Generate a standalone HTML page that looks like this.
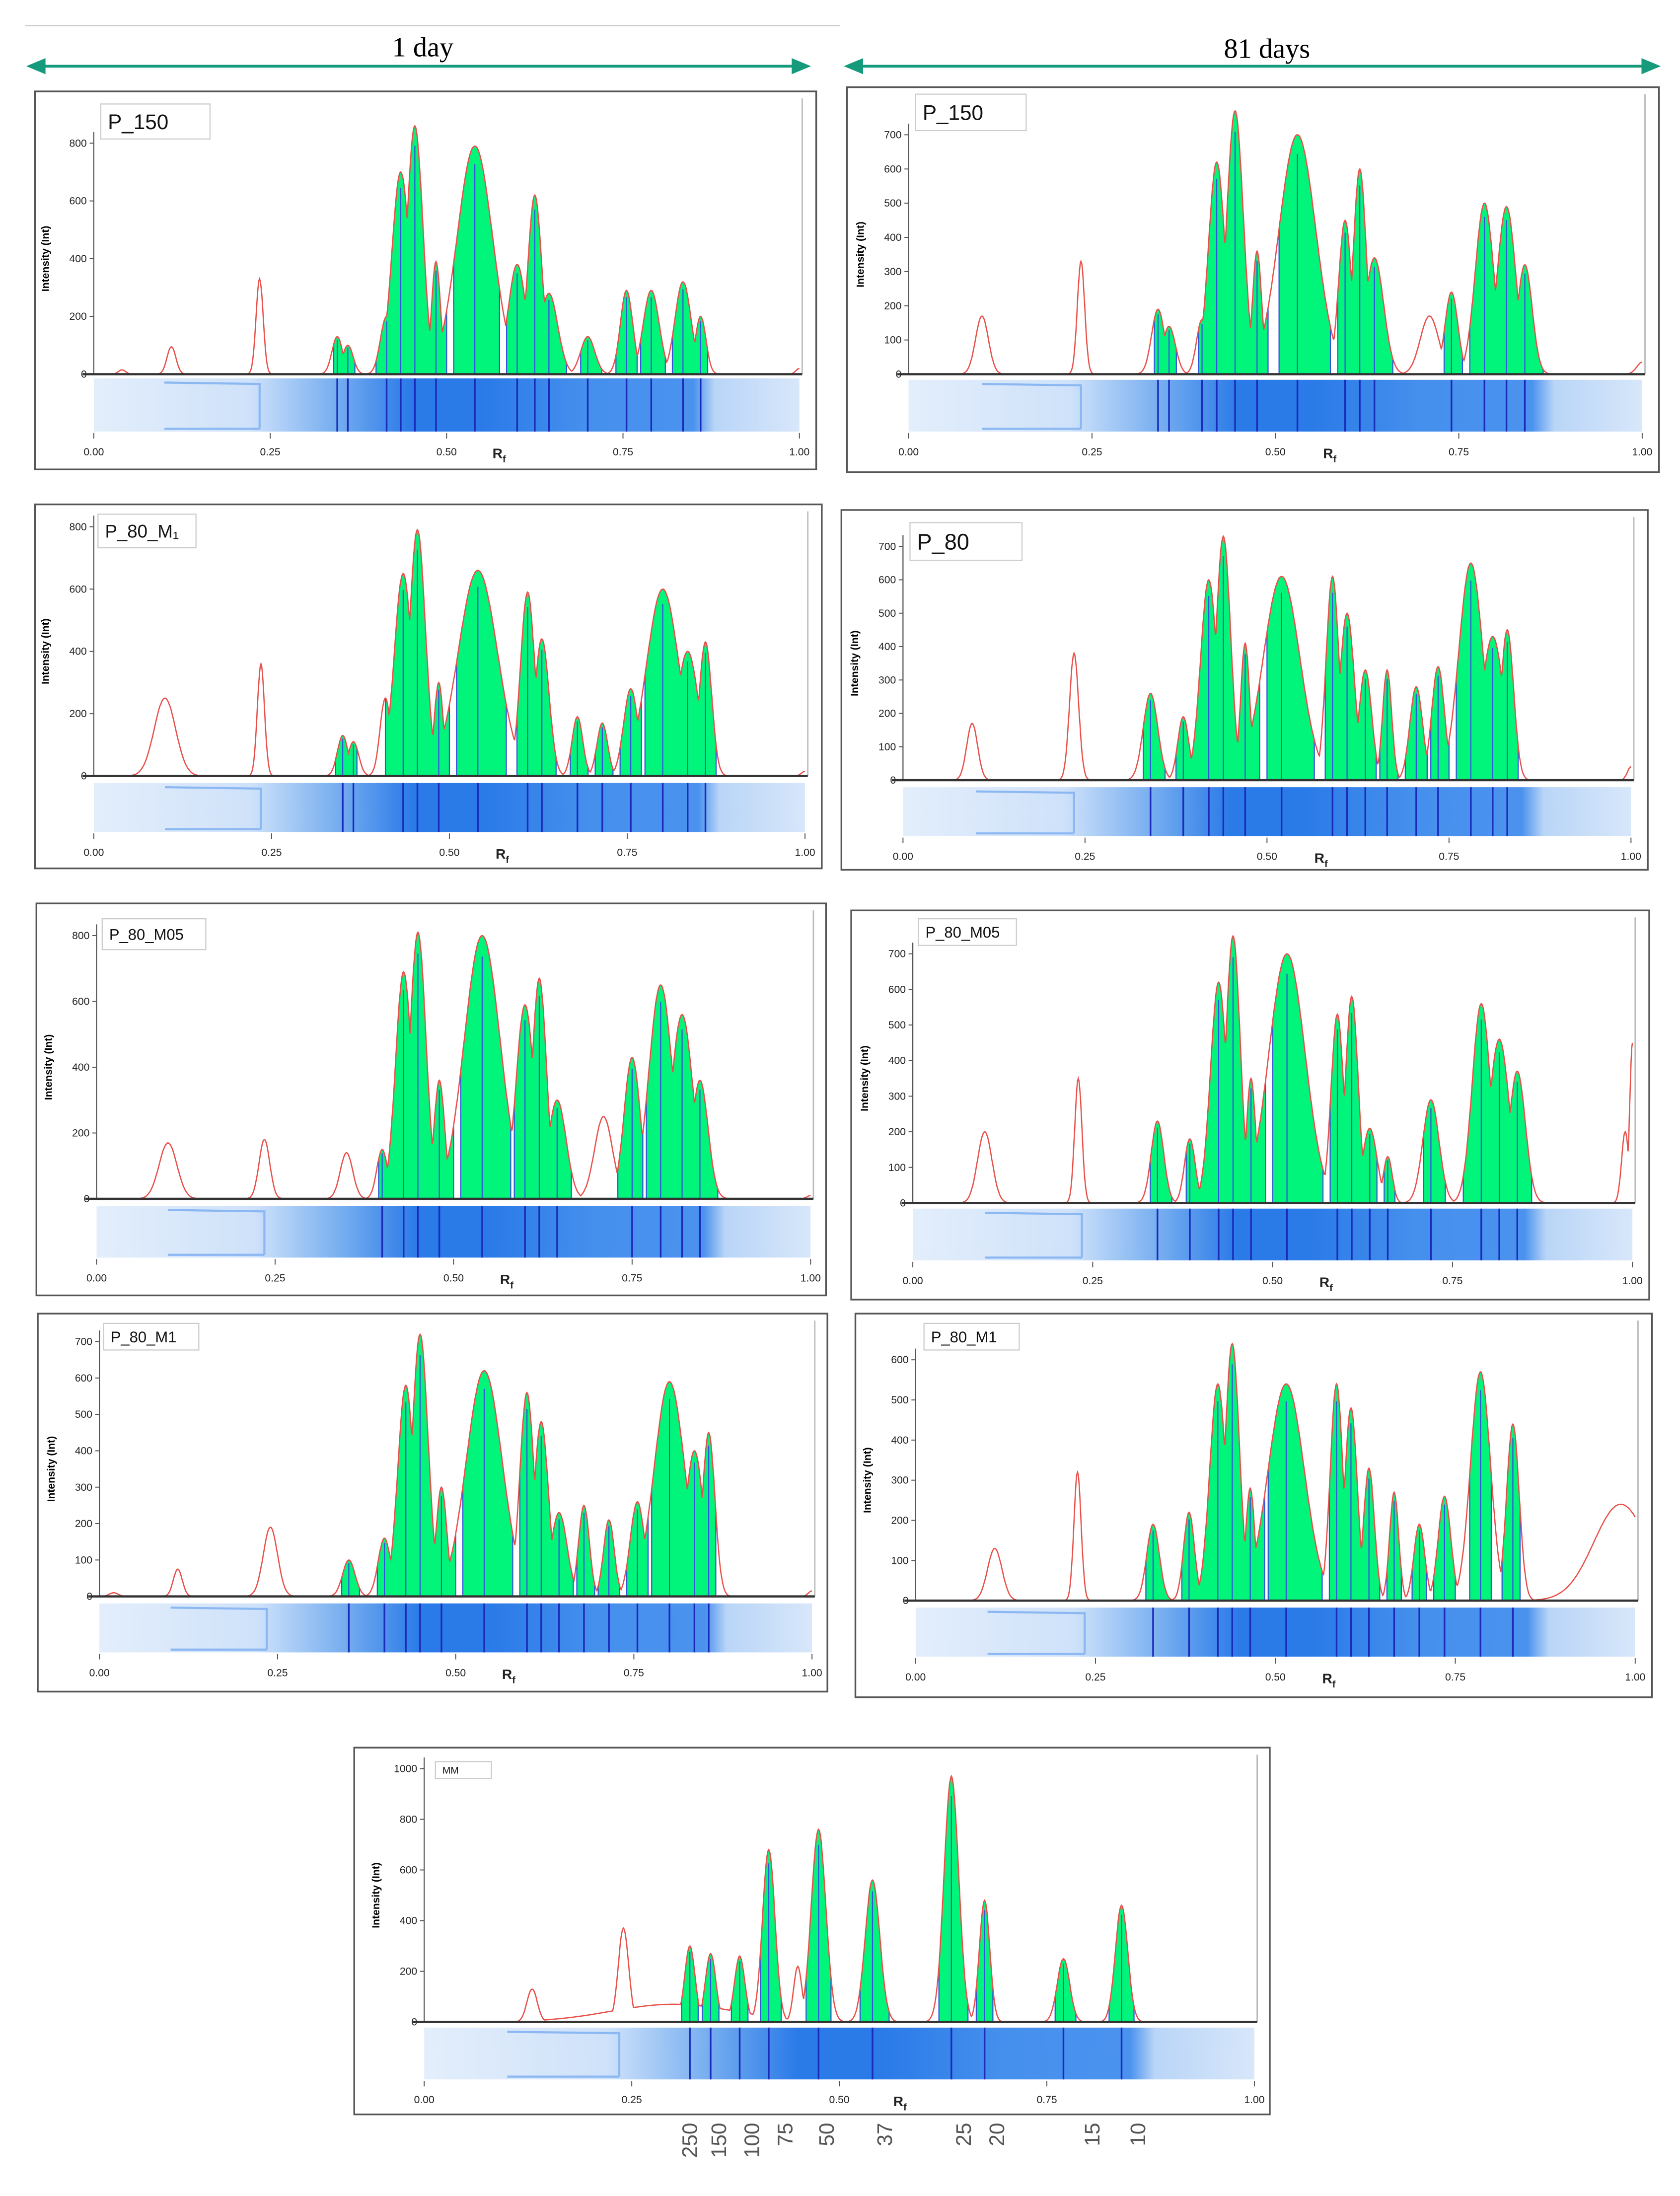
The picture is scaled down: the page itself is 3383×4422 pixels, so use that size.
<!DOCTYPE html>
<html><head><meta charset="utf-8">
<style>
html,body{margin:0;padding:0;background:#fff;}
svg{display:block;font-family:"Liberation Sans",sans-serif;}
</style></head>
<body>
<svg id="fig" width="3383" height="4422" viewBox="0 0 1200 1568" xmlns="http://www.w3.org/2000/svg">
<defs>
<linearGradient id="gel" x1="0" x2="1" y1="0" y2="0">
<stop offset="0" stop-color="#e3eefb"/>
<stop offset="0.22" stop-color="#cfe2fa"/>
<stop offset="0.34" stop-color="#78aff0"/>
<stop offset="0.45" stop-color="#2a7ae8"/>
<stop offset="0.55" stop-color="#2a7ae8"/>
<stop offset="0.7" stop-color="#4690ed"/>
<stop offset="0.85" stop-color="#4a92ee"/>
<stop offset="0.88" stop-color="#b9d5f7"/>
<stop offset="1" stop-color="#d8e7fa"/>
</linearGradient>
</defs>
<line x1="18" y1="18" x2="600" y2="18" stroke="#ccc" stroke-width="1"/>
<text x="302" y="40" font-family="Liberation Serif,serif" font-size="20" text-anchor="middle">1 day</text>
<text x="905" y="41" font-family="Liberation Serif,serif" font-size="20" text-anchor="middle">81 days</text>
<g stroke="#159a7c" fill="#159a7c">
<line x1="26" y1="47" x2="572" y2="47" stroke-width="2"/>
<polygon points="20,47 32,42 32,52"/><polygon points="578,47 566,42 566,52"/></g>
<g stroke="#159a7c" fill="#159a7c">
<line x1="610" y1="47" x2="1179" y2="47" stroke-width="2"/>
<polygon points="604,47 616,42 616,52"/><polygon points="1185,47 1173,42 1173,52"/></g>
<g id="panels"></g>
</svg>
<script>
const peaksL1=[[0.04,15,.004],[0.11,95,.005],[0.235,330,.004],[0.345,130,.006],[0.36,100,.006],[0.415,200,.007],[0.435,700,.01],[0.455,860,.009],[0.485,390,.005],[0.54,790,.02],[0.60,380,.01],[0.625,620,.008],[0.645,280,.01],[0.70,130,.008],[0.755,290,.007],[0.79,290,.009],[0.835,320,.009],[0.86,200,.006],[1.0,20,.004]];
const fillsL1=[[.34,.37],[.40,.50],[.51,.575],[.585,.67],[.69,.72],[.74,.77],[.775,.81],[.82,.87]];
const peaksL2=[[0.10,250,.012],[0.235,360,.004],[0.35,130,.006],[0.365,110,.006],[0.41,250,.006],[0.435,650,.01],[0.455,790,.009],[0.485,300,.005],[0.54,660,.022],[0.61,590,.008],[0.63,440,.008],[0.68,190,.006],[0.715,170,.006],[0.755,280,.008],[0.80,600,.018],[0.835,400,.012],[0.86,430,.007],[1.0,15,.004]];
const fillsL2=[[.34,.37],[.41,.50],[.51,.58],[.595,.65],[.67,.695],[.705,.73],[.74,.77],[.775,.875]];
const peaksL3=[[0.10,170,.01],[0.235,180,.006],[0.35,140,.007],[0.40,150,.006],[0.43,690,.009],[0.45,810,.009],[0.48,360,.006],[0.54,800,.02],[0.60,590,.01],[0.62,670,.008],[0.645,300,.01],[0.71,250,.01],[0.75,430,.009],[0.79,650,.013],[0.82,560,.012],[0.845,360,.009],[1.0,10,.004]];
const fillsL3=[[.395,.50],[.51,.58],[.585,.665],[.73,.765],[.77,.87]];
const peaksL4=[[0.02,10,.005],[0.11,75,.005],[0.24,190,.008],[0.35,100,.007],[0.40,160,.007],[0.43,580,.009],[0.45,720,.009],[0.48,300,.006],[0.54,620,.02],[0.60,560,.008],[0.62,480,.008],[0.645,230,.009],[0.68,250,.006],[0.715,210,.006],[0.755,260,.008],[0.80,590,.017],[0.835,400,.01],[0.855,450,.007],[1.0,15,.004]];
const fillsL4=[[.34,.365],[.39,.50],[.51,.58],[.59,.665],[.67,.695],[.70,.73],[.74,.77],[.775,.865]];
const peaksR1=[[0.10,170,.007],[0.235,330,.004],[0.34,190,.007],[0.355,140,.007],[0.40,160,.006],[0.42,620,.009],[0.445,770,.009],[0.475,360,.005],[0.53,700,.02],[0.595,450,.007],[0.615,600,.007],[0.635,340,.01],[0.71,170,.01],[0.74,240,.007],[0.785,500,.01],[0.815,490,.01],[0.84,320,.008],[1.0,35,.006]];
const fillsR1=[[.335,.365],[.395,.49],[.505,.575],[.585,.66],[.73,.755],[.765,.865]];
const peaksR2=[[0.095,170,.006],[0.235,380,.005],[0.34,260,.008],[0.385,190,.006],[0.42,600,.009],[0.44,730,.008],[0.47,410,.005],[0.52,610,.02],[0.59,610,.007],[0.61,500,.008],[0.635,330,.007],[0.665,330,.005],[0.705,280,.007],[0.735,340,.007],[0.78,650,.013],[0.81,430,.012],[0.83,450,.007],[1.0,40,.004]];
const fillsR2=[[.33,.36],[.375,.49],[.50,.565],[.58,.65],[.655,.68],[.69,.72],[.725,.75],[.76,.845]];
const peaksR3=[[0.10,200,.008],[0.23,350,.004],[0.34,230,.007],[0.385,180,.006],[0.425,620,.009],[0.445,750,.008],[0.47,350,.005],[0.52,700,.02],[0.59,530,.007],[0.61,580,.007],[0.635,210,.008],[0.66,130,.005],[0.72,290,.009],[0.79,560,.01],[0.815,460,.011],[0.84,370,.009],[0.99,200,.004],[1.0,450,.003]];
const fillsR3=[[.33,.36],[.38,.49],[.50,.57],[.58,.645],[.655,.67],[.71,.74],[.765,.86]];
const peaksR4=[[0.11,130,.008],[0.225,320,.004],[0.33,190,.007],[0.38,220,.006],[0.42,540,.009],[0.44,640,.008],[0.465,280,.005],[0.515,540,.02],[0.585,540,.007],[0.605,480,.007],[0.63,330,.006],[0.665,270,.005],[0.70,190,.006],[0.735,260,.007],[0.785,570,.011],[0.83,440,.007],[0.98,240,.03]];
const fillsR4=[[.32,.355],[.37,.485],[.49,.565],[.575,.645],[.655,.675],[.69,.71],[.72,.75],[.77,.80],[.815,.84]];
const peaksMM=[[0.13,130,.005],[0.24,370,.005],[0.3,70,.06],[0.32,300,.005],[0.345,270,.005],[0.38,260,.005],[0.415,680,.006],[0.45,220,.004],[0.475,760,.007],[0.54,560,.007],[0.635,970,.007],[0.675,480,.005],[0.77,250,.006],[0.84,460,.006]];
const fillsMM=[[.31,.33],[.335,.355],[.37,.39],[.405,.43],[.46,.49],[.525,.56],[.62,.655],[.665,.685],[.76,.785],[.825,.855]];
const xTicks=["0.00","0.25","0.50","0.75","1.00"];
const mwLabels=["250","150","100","75","50","37","25","20","15","10"];
const mwRf=[0.32,0.355,0.395,0.435,0.485,0.555,0.65,0.69,0.805,0.86];
const widthScale=1.25;

const panels=[
 {id:'l1',label:'P_150',peaks:peaksL1,fills:fillsL1,f:[25,65,583,335],x0:67,x1:571,base:267,top:102,topV:800,step:200,gel:[270,308],lab:[72,74,150,99],fs:15},
 {id:'l2',label:'P_80_M\u2081',peaks:peaksL2,fills:fillsL2,f:[25,360,587,620],x0:67,x1:575,base:554,top:376,topV:800,step:200,gel:[559,594],lab:[70,367,140,391],fs:13},
 {id:'l3',label:'P_80_M05',peaks:peaksL3,fills:fillsL3,f:[26,645,590,925],x0:69,x1:579,base:856,top:668,topV:800,step:200,gel:[861,898],lab:[73,656,147,678],fs:11},
 {id:'l4',label:'P_80_M1',peaks:peaksL4,fills:fillsL4,f:[27,938,591,1208],x0:71,x1:580,base:1140,top:958,topV:700,step:100,gel:[1145,1180],lab:[74,945,142,964],fs:11},
 {id:'r1',label:'P_150',peaks:peaksR1,fills:fillsR1,f:[605,62,1185,337],x0:649,x1:1173,base:267,top:96,topV:700,step:100,gel:[271,308],lab:[654,67,733,93],fs:15},
 {id:'r2',label:'P_80',peaks:peaksR2,fills:fillsR2,f:[601,364,1177,621],x0:645,x1:1165,base:557,top:390,topV:700,step:100,gel:[562,597],lab:[650,373,730,400],fs:16},
 {id:'r3',label:'P_80_M05',peaks:peaksR3,fills:fillsR3,f:[608,650,1178,928],x0:652,x1:1166,base:859,top:681,topV:700,step:100,gel:[863,900],lab:[656,656,726,675],fs:11},
 {id:'r4',label:'P_80_M1',peaks:peaksR4,fills:fillsR4,f:[611,938,1180,1212],x0:654,x1:1168,base:1143,top:971,topV:600,step:100,gel:[1148,1183],lab:[660,945,728,964],fs:11},
 {id:'mm',label:'MM',peaks:peaksMM,fills:fillsMM,f:[253,1248,907,1510],x0:303,x1:896,base:1444,top:1263,topV:1000,step:200,gel:[1448,1485],lab:[311,1258,351,1270],fs:7}
];
const NS='http://www.w3.org/2000/svg';
const root=document.getElementById('panels');
function mk(tag,attrs,parent){const e=document.createElementNS(NS,tag);for(const k in attrs)e.setAttribute(k,attrs[k]);parent.appendChild(e);return e;}
function intensity(peaks,r){let m=0;for(const p of peaks){const d=(r-p[0])/(p[2]*widthScale);const v=p[1]*Math.exp(-0.5*d*d);if(v>m)m=v;}return m;}

panels.forEach(P=>{
 const g=mk('g',{},root);
 
 
 const xs=r=>P.x0+r*(P.x1-P.x0);
 const ys=v=>P.base-v*(P.base-P.top)/P.topV;
 const fr=mk('rect',{x:P.f[0],y:P.f[1],width:P.f[2]-P.f[0],height:P.f[3]-P.f[1],fill:'#fff',stroke:'#555','stroke-width':1.2},g);
 
 
 mk('line',{x1:P.x1+2,y1:P.f[1]+5,x2:P.x1+2,y2:P.base,stroke:'#bbb','stroke-width':1},g);
 const lb=mk('rect',{x:P.lab[0],y:P.lab[1],width:P.lab[2]-P.lab[0],height:P.lab[3]-P.lab[1],fill:'#fff',stroke:'#ccc','stroke-width':0.8},g);
 
 
 const lt=mk('text',{x:P.lab[0]+5,y:(P.lab[1]+P.lab[3])/2+P.fs*0.36,'font-size':P.fs,fill:'#111'},g);
 lt.textContent=P.label;
 
 
 const ya=mk('line',{x1:P.x0,y1:P.top-8,x2:P.x0,y2:P.base,stroke:'#555','stroke-width':0.8},g);
 
 
 for(let v=0;v<=P.topV;v+=P.step){
  mk('line',{x1:P.x0-3,y1:ys(v),x2:P.x0,y2:ys(v),stroke:'#555','stroke-width':0.7},g);
  const t=mk('text',{x:P.x0-5,y:ys(v)+2.5,'font-size':7.5,'text-anchor':'end',fill:'#222'},g);
  t.textContent=v;
  
  
 }
 const yt=mk('text',{x:0,y:0,'font-size':7.5,'font-weight':'bold','text-anchor':'middle',transform:`translate(${P.x0-32},${(P.base+P.top)/2}) rotate(-90)`},g);
 yt.textContent='Intensity (Int)';
 
 
 P.fills.forEach(fl=>{
  let pts=[[xs(fl[0]),P.base]];
  for(let r=fl[0];r<=fl[1]+1e-9;r+=0.001)pts.push([xs(r),ys(intensity(P.peaks,r))]);
  pts.push([xs(fl[1]),P.base]);
  const pg=mk('polygon',{points:pts.map(p=>p[0].toFixed(1)+','+p[1].toFixed(1)).join(' '),fill:'#00f57a',stroke:'none'},g);
  
  
  [fl[0],fl[1]].forEach(b=>mk('line',{x1:xs(b),y1:P.base,x2:xs(b),y2:ys(intensity(P.peaks,b)),stroke:'#3355dd','stroke-width':0.8},g));
 });
 P.peaks.forEach(p=>{
  const inF=P.fills.some(f=>p[0]>f[0]&&p[0]<f[1]);
  if(inF){mk('line',{x1:xs(p[0]),y1:P.base,x2:xs(p[0]),y2:ys(intensity(P.peaks,p[0])*0.92),stroke:'#3355dd','stroke-width':0.8},g);}
 });
 let d='';
 for(let r=0;r<=1.0001;r+=0.001){const y=ys(intensity(P.peaks,r));d+=(r===0?'M':'L')+xs(r).toFixed(1)+','+y.toFixed(1);}
 const tr=mk('path',{d:d,fill:'none',stroke:'#e8504a','stroke-width':0.9},g);
 
 
 const bl=mk('line',{x1:P.x0-8,y1:P.base,x2:P.x1+2,y2:P.base,stroke:'#333','stroke-width':1.6},g);
 
 
 const gr=mk('rect',{x:P.x0,y:P.gel[0],width:P.x1-P.x0,height:P.gel[1]-P.gel[0],fill:'url(#gel)'},g);
 
 
 mk('path',{d:`M${xs(0.1)},${P.gel[0]+3} L${xs(0.235)},${P.gel[0]+4} L${xs(0.235)},${P.gel[1]-2} M${xs(0.1)},${P.gel[1]-2} L${xs(0.235)},${P.gel[1]-2}`,fill:'none',stroke:'#8bb7f2','stroke-width':1.5},g);
 P.peaks.forEach(p=>{if(P.fills.some(f=>p[0]>f[0]&&p[0]<f[1]))mk('line',{x1:xs(p[0]),y1:P.gel[0],x2:xs(p[0]),y2:P.gel[1],stroke:'#1a2bbb','stroke-width':1.2},g);});
 xTicks.forEach((lab,i)=>{
  const x=xs(i*0.25);
  mk('line',{x1:x,y1:P.gel[1]+1,x2:x,y2:P.gel[1]+5,stroke:'#555','stroke-width':0.7},g);
  const t=mk('text',{x:x,y:P.gel[1]+17,'font-size':7.5,'text-anchor':'middle',fill:'#222'},g);
  t.textContent=lab;
  
  
 });
 const rf=mk('text',{x:xs(0.565),y:P.gel[1]+19,'font-size':10,'font-weight':'bold',fill:'#222'},g);
 rf.innerHTML='R<tspan font-size="7" dy="3">f</tspan>';
 
 
 if(P.id==='mm'){
  mwLabels.forEach((m,i)=>{
   const x=xs(mwRf[i]);
   const t=mk('text',{x:0,y:0,'font-size':15,fill:'#555','text-anchor':'end',transform:`translate(${x+5},${1516}) rotate(-90)`},g);
   t.textContent=m;
   
   
  });
 }
});
</script>
</body></html>
